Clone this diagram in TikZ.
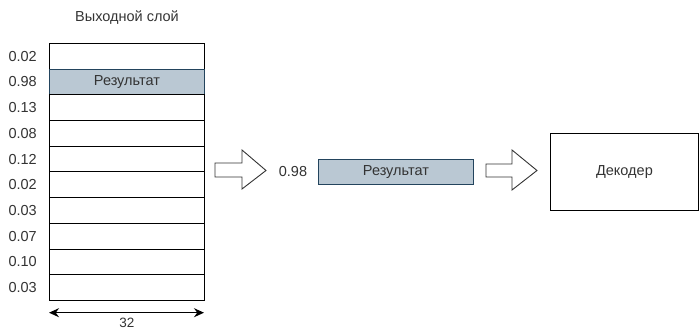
\documentclass[tikz,border=0pt]{standalone}
\usepackage{fontspec}
\setmainfont{Liberation Sans}
\usetikzlibrary{arrows.meta}
\definecolor{txt}{HTML}{333333}
\definecolor{resfill}{HTML}{BAC8D3}
\definecolor{resline}{HTML}{23445D}
\tikzset{
  lbl/.style={text=txt, font=\fontsize{14.5}{17}\selectfont, inner sep=0pt},
  cell/.style={draw=black, line width=0.9pt, minimum width=155pt, minimum height=25.7pt,
    inner sep=0pt, anchor=north west, text=txt, font=\fontsize{14.5}{17}\selectfont},
  rescell/.style={cell, fill=resfill, draw=resline},
  blockarrow/.style={draw=black!80, line width=0.9pt, fill=white, line join=miter},
}
\begin{document}
\begin{tikzpicture}[x=1pt, y=-1pt]
\useasboundingbox (0,0) rectangle (699,331);

% title
\node[lbl] (title) at (127,18) {Выходной слой};

% output layer cells
\node[cell]    (r1)  at (49,43)      {};
\node[rescell] (r2)  at (49,68.7)    {Результат};
\node[cell]    (r3)  at (49,94.4)    {};
\node[cell]    (r4)  at (49,120.1)   {};
\node[cell]    (r5)  at (49,145.8)   {};
\node[cell]    (r6)  at (49,171.5)   {};
\node[cell]    (r7)  at (49,197.2)   {};
\node[cell]    (r8)  at (49,222.9)   {};
\node[cell]    (r9)  at (49,248.6)   {};
\node[cell]    (r10) at (49,274.3)   {};

% probabilities
\foreach \n/\v in {r1/0.02, r2/0.98, r3/0.13, r4/0.08, r5/0.12, r6/0.02, r7/0.03, r8/0.07, r9/0.10, r10/0.03}
  \node[lbl, anchor=east] (p\n) at ([xshift=-12pt]\n.west) {\v};

% width marker
\coordinate (wl) at (49,312.7);
\coordinate (wr) at (204,312.7);
\draw[line width=1.4pt, {Stealth[length=10pt,width=9pt]}-{Stealth[length=10pt,width=9pt]}] (wl) -- (wr);
\node[lbl, font=\fontsize{13.5}{15}\selectfont] (width) at (127,322.5) {32};

% first block arrow
\draw[blockarrow] (215,163) -- (242,163) -- (242,150) -- (266,170.5) -- (242,189)
  -- (242,177) -- (215,177) -- cycle;

% selected result
\node[lbl] (val) at (293,171.5) {0.98};
\node[rescell, minimum width=155pt, minimum height=25pt] (res) at (318,159) {Результат};

% second block arrow
\draw[blockarrow] (486,164) -- (512,164) -- (512,150) -- (537,170.5) -- (512,190)
  -- (512,177) -- (486,177) -- cycle;

% decoder
\node[cell, minimum width=148pt, minimum height=77pt] (dec) at (550,133) {Декодер};
\end{tikzpicture}
\end{document}
